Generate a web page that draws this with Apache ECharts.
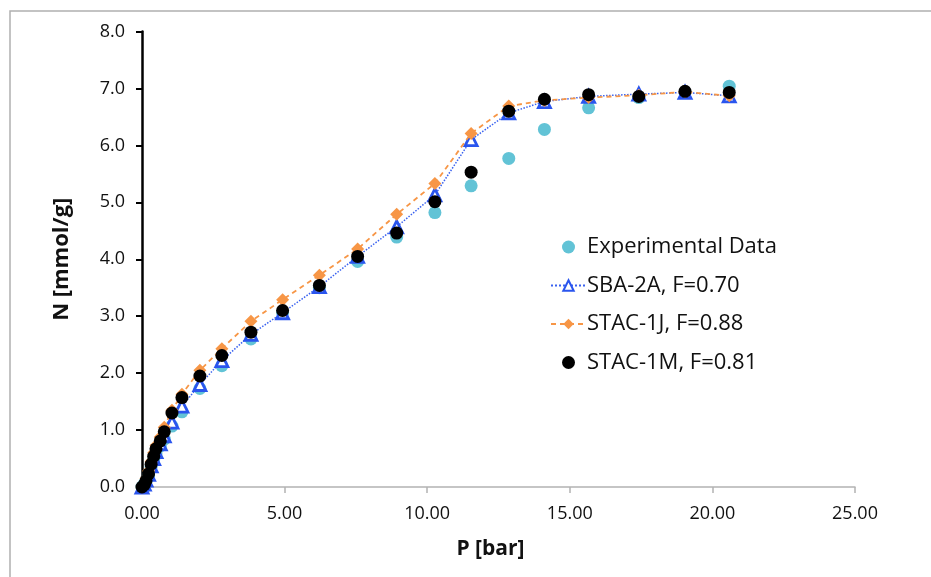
<!DOCTYPE html>
<html>
<head>
<meta charset="utf-8">
<script src="https://cdn.jsdelivr.net/npm/echarts@6/dist/echarts.min.js"></script>
<style>
  html, body { margin: 0; padding: 0; background: #fff; }
  #chart { width: 931px; height: 577px; }
</style>
</head>
<body>
<div id="chart"></div>
<script>
// Pressure points [bar]
const pressure = [0.00, 0.08, 0.14, 0.23, 0.32, 0.41, 0.49, 0.64, 0.78, 1.05, 1.40, 2.03, 2.80,
  3.82, 4.93, 6.22, 7.56, 8.93, 10.27, 11.54, 12.86, 14.11, 15.66, 17.42, 19.04, 20.59];

// Uptake N [mmol/g] per series
const experimental = [0.00, 0.05, 0.10, 0.20, 0.35, 0.48, 0.58, 0.72, 0.84, 1.07, 1.32, 1.73, 2.13,
  2.60, 3.06, 3.50, 3.96, 4.39, 4.82, 5.29, 5.77, 6.28, 6.66, 6.84, 6.93, 7.04];
const sba2a = [0.00, 0.05, 0.12, 0.22, 0.37, 0.50, 0.62, 0.76, 0.90, 1.14, 1.42, 1.80, 2.22,
  2.68, 3.06, 3.52, 4.05, 4.57, 5.13, 6.10, 6.57, 6.77, 6.86, 6.90, 6.93, 6.87];
const stac1j = [0.00, 0.07, 0.15, 0.28, 0.45, 0.60, 0.73, 0.88, 1.05, 1.35, 1.63, 2.05, 2.43,
  2.91, 3.29, 3.72, 4.18, 4.79, 5.33, 6.21, 6.69, 6.79, 6.84, 6.88, 6.94, 6.87];
const stac1m = [0.00, 0.04, 0.11, 0.23, 0.40, 0.54, 0.67, 0.81, 0.97, 1.30, 1.57, 1.95, 2.31,
  2.72, 3.10, 3.54, 4.05, 4.46, 5.01, 5.53, 6.60, 6.81, 6.89, 6.86, 6.95, 6.93];

const seriesNames = ['Experimental Data', 'SBA-2A, F=0.70', 'STAC-1J, F=0.88', 'STAC-1M, F=0.81'];

const pairs = ys => pressure.map((p, i) => [p, ys[i]]);
const FONT = '"Open Sans", "Liberation Sans", sans-serif';

const chart = echarts.init(document.getElementById('chart'), null, { renderer: 'canvas' });
chart.setOption({
  animation: false,
  backgroundColor: '#ffffff',
  textStyle: { fontFamily: FONT },
  graphic: [{
    type: 'rect',
    shape: { x: 10, y: 11, width: 1000, height: 1000 },
    style: { fill: 'none', stroke: '#b0b0b0', lineWidth: 1.5 },
    silent: true,
    z: -10
  }],
  grid: { left: 142, right: 76, top: 31.5, bottom: 90, containLabel: false },
  legend: {
    orient: 'vertical',
    left: 545,
    top: 230,
    itemWidth: 35,
    itemHeight: 13,
    itemGap: 14.5,
    textStyle: { fontFamily: FONT, fontSize: 22, color: '#111', lineHeight: 24, padding: [0, 0, 0, -4] },
    data: seriesNames
  },
  xAxis: {
    type: 'value',
    min: 0, max: 25, interval: 5,
    name: 'P [bar]',
    nameLocation: 'middle',
    nameGap: 52,
    nameTextStyle: { fontFamily: FONT, fontSize: 21, fontWeight: 'bold', color: '#111', padding: [0, 16, 0, 0] },
    axisLine: { onZero: false, lineStyle: { color: '#b3b3b3', width: 1.5 } },
    axisTick: { show: true, inside: false, length: 6, lineStyle: { color: '#b3b3b3', width: 1.5 } },
    axisLabel: { fontFamily: FONT, fontSize: 18, color: '#111', margin: 18, formatter: v => v.toFixed(2) },
    splitLine: { show: false }
  },
  yAxis: {
    type: 'value',
    min: 0, max: 8, interval: 1,
    name: 'N [mmol/g]',
    nameLocation: 'middle',
    nameRotate: 90,
    nameGap: 69,
    nameTextStyle: { fontFamily: FONT, fontSize: 22, fontWeight: 'bold', color: '#111' },
    axisLine: { show: true, onZero: false, lineStyle: { color: '#000', width: 2.5 } },
    axisTick: { show: true, inside: false, length: 6, lineStyle: { color: '#000', width: 2 } },
    axisLabel: { fontFamily: FONT, fontSize: 18, color: '#111', margin: 17, formatter: v => v.toFixed(1) },
    splitLine: { show: false }
  },
  series: [
    {
      name: seriesNames[0],
      type: 'scatter',
      data: pairs(experimental),
      symbol: 'circle',
      symbolSize: 13,
      itemStyle: { color: '#62c3d6', opacity: 1 },
      z: 2
    },
    {
      name: seriesNames[1],
      type: 'line',
      data: pairs(sba2a),
      symbol: 'triangle',
      symbolSize: 12,
      showAllSymbol: true,
      lineStyle: { color: '#3a62f0', width: 1.5, type: 'dotted' },
      itemStyle: { color: '#ffffff', borderColor: '#2a55ee', borderWidth: 2.8 },
      z: 3
    },
    {
      name: seriesNames[2],
      type: 'line',
      data: pairs(stac1j),
      symbol: 'diamond',
      symbolSize: 13,
      showAllSymbol: true,
      lineStyle: { color: '#f79646', width: 1.8, type: [5, 4] },
      itemStyle: { color: '#f79646', borderColor: '#f79646', borderWidth: 0 },
      z: 4
    },
    {
      name: seriesNames[3],
      type: 'scatter',
      data: pairs(stac1m),
      symbol: 'circle',
      symbolSize: 13,
      itemStyle: { color: '#000000', opacity: 1 },
      z: 5
    }
  ]
});
</script>
</body>
</html>
